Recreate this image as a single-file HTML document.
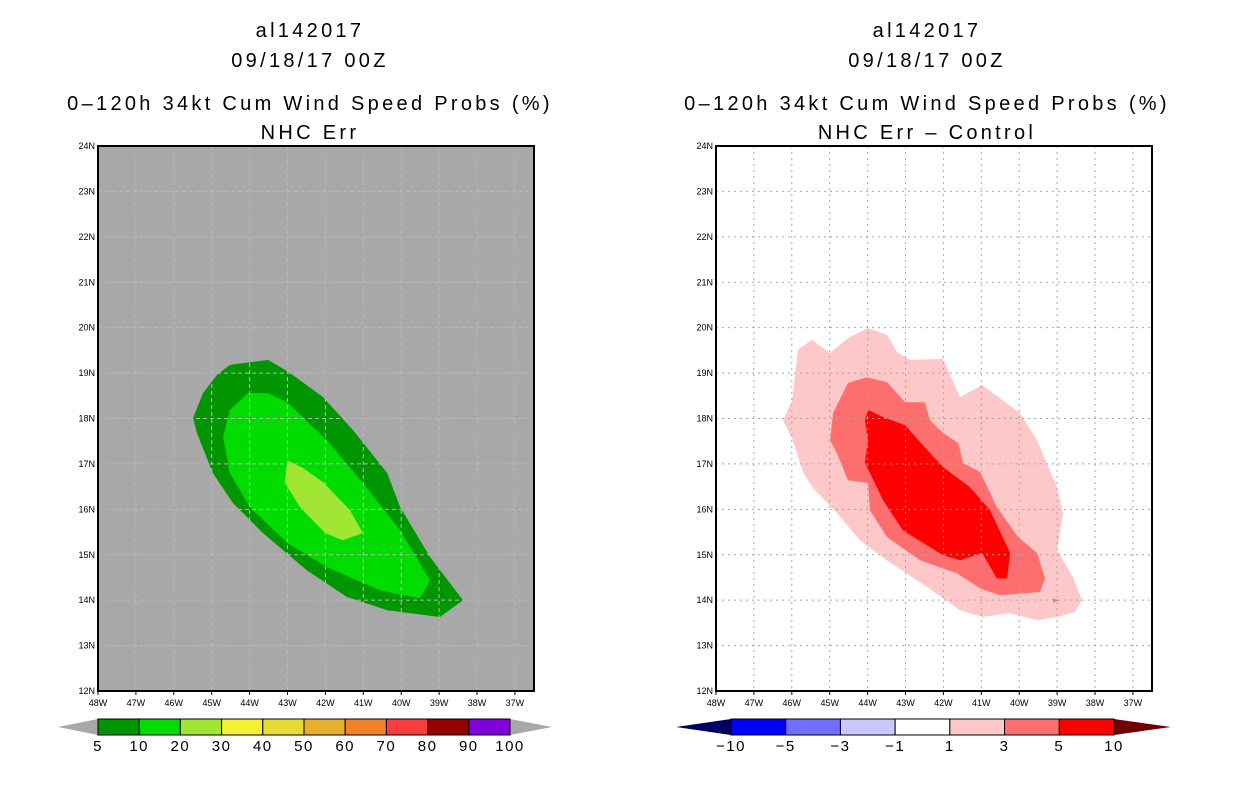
<!DOCTYPE html>
<html><head><meta charset="utf-8"><style>
html,body{margin:0;padding:0;background:#fff;}
svg{display:block;font-family:"Liberation Sans",sans-serif;}
</style></head><body>
<svg id="fig" width="1236" height="800" viewBox="0 0 1236 800">
<g font-size="20" text-anchor="middle" fill="#000" letter-spacing="3.3">
<text x="310" y="37">al142017</text>
<text x="310" y="67">09/18/17 00Z</text>
<text x="310" y="110">0–120h 34kt Cum Wind Speed Probs (%)</text>
<text x="310" y="139">NHC Err</text>
</g>
<g font-size="20" text-anchor="middle" fill="#000" letter-spacing="3.3">
<text x="927" y="37">al142017</text>
<text x="927" y="67">09/18/17 00Z</text>
<text x="927" y="110">0–120h 34kt Cum Wind Speed Probs (%)</text>
<text x="927" y="139">NHC Err – Control</text>
</g>
<g id="leftPlot"></g>
<g id="rightPlot"></g>
<g id="leftBar"></g>
<g id="rightBar"></g>
</svg>
<script>
const lonTicks=[48,47,46,45,44,43,42,41,40,39,38,37];
const latTicks=[12,13,14,15,16,17,18,19,20,21,22,23,24];
// left: NHC Err contours [lon W, lat N]
const leftLevel5=[[44.52,19.18],[43.51,19.29],[42.93,19.0],[42.06,18.47],[41.27,17.74],[40.37,16.8],[40.03,16.05],[39.24,14.95],[38.37,14.0],[38.98,13.63],[40.37,13.78],[41.43,14.07],[42.49,14.66],[43.65,15.48],[44.44,16.14],[44.97,16.8],[45.39,17.68],[45.49,18.01],[45.23,18.56],[44.86,18.96]];
const leftLevel10=[[44.04,18.56],[43.51,18.56],[43.01,18.36],[41.96,17.52],[41.01,16.58],[40.03,15.54],[39.24,14.44],[39.5,14.04],[40.56,14.22],[41.96,14.73],[43.01,15.26],[43.99,16.05],[44.52,16.8],[44.7,17.59],[44.52,18.19]];
const leftLevel20=[[43.01,17.08],[42.59,16.91],[42.06,16.6],[41.35,15.98],[41.01,15.48],[41.54,15.32],[42.01,15.48],[42.67,16.05],[43.07,16.58]];
// right: difference contours
const rightLevel1=[[45.84,19.51],[45.47,19.73],[44.99,19.44],[44.52,19.77],[43.99,19.99],[43.49,19.84],[43.22,19.46],[42.88,19.29],[42.01,19.31],[41.56,18.47],[40.98,18.74],[39.98,18.12],[39.53,17.52],[39.0,16.49],[38.84,15.92],[39.0,15.1],[38.58,14.51],[38.34,14.0],[38.53,13.74],[39.0,13.63],[39.53,13.56],[40.24,13.71],[40.96,13.63],[41.56,13.78],[42.43,14.29],[43.49,14.88],[44.2,15.32],[44.81,15.92],[45.44,16.47],[45.7,16.8],[45.97,17.52],[46.23,17.96],[45.99,18.41]];
const rightLevel3=[[44.52,18.78],[44.02,18.91],[43.49,18.8],[43.01,18.36],[42.49,18.36],[42.35,17.96],[42.01,17.68],[41.61,17.46],[41.48,17.02],[41.03,16.82],[40.59,16.05],[40.03,15.39],[39.53,15.04],[39.32,14.48],[39.45,14.18],[40.51,14.11],[41.03,14.26],[41.64,14.59],[42.62,14.88],[43.49,15.39],[43.94,15.98],[43.99,16.58],[44.52,16.64],[44.81,17.24],[44.99,17.52],[44.91,18.12]];
const rightLevel5=[[43.99,18.19],[43.59,18.03],[43.01,17.85],[42.54,17.41],[42.01,16.93],[41.3,16.49],[40.77,15.98],[40.24,15.04],[40.32,14.48],[40.59,14.48],[40.98,15.04],[41.56,14.88],[42.01,14.99],[43.07,15.54],[43.59,16.2],[43.94,16.8],[44.07,17.02],[43.99,17.52],[44.07,17.96]];
const rightBlip=[[39.12,14.04],[38.95,14.0],[39.1,13.95]];
const leftBarLabels=["5","10","20","30","40","50","60","70","80","90","100"];
const leftBarColors=["#009600","#00dc00","#a0e632","#f5f032","#e6dc32","#e6af2d","#f08228","#fa3c3c","#960000","#8200dc"];
const rightBarLabels=["−10","−5","−3","−1","1","3","5","10"];
const rightBarColors=["#0000ff","#6e6eff","#c8c8ff","#ffffff","#ffc8c8","#ff6e6e","#ff0000"];

const NS="http://www.w3.org/2000/svg";
function mk(tag,attrs,parent){const e=document.createElementNS(NS,tag);for(const k in attrs)e.setAttribute(k,attrs[k]);parent.appendChild(e);return e;}
const plotTop=146,plotBot=691,pxLat=(plotBot-plotTop)/12;
function makeAxes(x0,w){const pxLon=37.9;return{x:lon=>x0+(48-lon)*pxLon,y:lat=>plotTop+(24-lat)*pxLat};}
function poly(g,ax,pts,fill,name){
  const p=mk('polygon',{points:pts.map(d=>ax.x(d[0]).toFixed(1)+','+ax.y(d[1]).toFixed(1)).join(' '),fill:fill},g);
  
  
}
function panel(g,x0,w,bg,grid,dash,layers){
  const ax=makeAxes(x0,w);
  const r=mk('rect',{x:x0,y:plotTop,width:w,height:plotBot-plotTop,fill:bg},g);
  
  
  layers.forEach(l=>poly(g,ax,l[0],l[1],l[2]));
  const gg=mk('g',{stroke:grid,'stroke-width':1,'stroke-dasharray':dash},g);
  
  
  lonTicks.slice(1).forEach(l=>mk('line',{x1:ax.x(l),x2:ax.x(l),y1:plotTop,y2:plotBot},gg));
  latTicks.slice(1,-1).forEach(l=>mk('line',{x1:x0,x2:x0+w,y1:ax.y(l),y2:ax.y(l)},gg));
  const fr=mk('rect',{x:x0,y:plotTop,width:w,height:plotBot-plotTop,fill:'none',stroke:'#000','stroke-width':2},g);
  
  
  lonTicks.forEach(l=>{
    const t=mk('text',{x:ax.x(l),y:706,'font-size':9,'text-anchor':'middle'},g);t.textContent=l+'W';
    
    
    mk('line',{x1:ax.x(l),x2:ax.x(l),y1:plotBot,y2:plotBot+4,stroke:'#000'},g);
  });
  latTicks.forEach(l=>{
    const t=mk('text',{x:x0-3,y:ax.y(l)+3,'font-size':9,'text-anchor':'end'},g);t.textContent=l+'N';
    
    
  });
}
panel(document.getElementById('leftPlot'),98,436,'#a8a8a8','#b8b8b8','4,3',[[leftLevel5,'#009600','contour-5pct'],[leftLevel10,'#00dc00','contour-10pct'],[leftLevel20,'#a0e632','contour-20pct']]);
panel(document.getElementById('rightPlot'),716,436,'#ffffff','#a8a8a8','2,4',[[rightLevel1,'#ffc8c8','contour-1pct'],[rightLevel3,'#ff6e6e','contour-3pct'],[rightLevel5,'#ff0000','contour-5pct'],[rightBlip,'#ff6e6e','contour-blip']]);

function bar(g,x0,x1,triL,triR,colors,labels,lc,rc){
  const y0=719,y1=735,n=colors.length,bw=(x1-x0)/n,ym=(y0+y1)/2;
  const a=mk('polygon',{points:`${x0},${y0} ${triL},${ym} ${x0},${y1}`,fill:lc},g);
  
  
  const b=mk('polygon',{points:`${x1},${y0} ${triR},${ym} ${x1},${y1}`,fill:rc},g);
  
  
  colors.forEach((c,i)=>{
    const r=mk('rect',{x:x0+i*bw,y:y0,width:bw,height:y1-y0,fill:c,stroke:'#000','stroke-width':1},g);
    
    
  });
  labels.forEach((l,i)=>{
    const t=mk('text',{x:x0+i*bw,y:751,'font-size':15,'text-anchor':'middle','letter-spacing':1.5},g);t.textContent=l;
    
    
  });
}
bar(document.getElementById('leftBar'),98,510,58,552,leftBarColors,leftBarLabels,'#a8a8a8','#a8a8a8');
bar(document.getElementById('rightBar'),731,1114,676,1171,rightBarColors,rightBarLabels,'#000064','#6e0000');
</script>
</body></html>
